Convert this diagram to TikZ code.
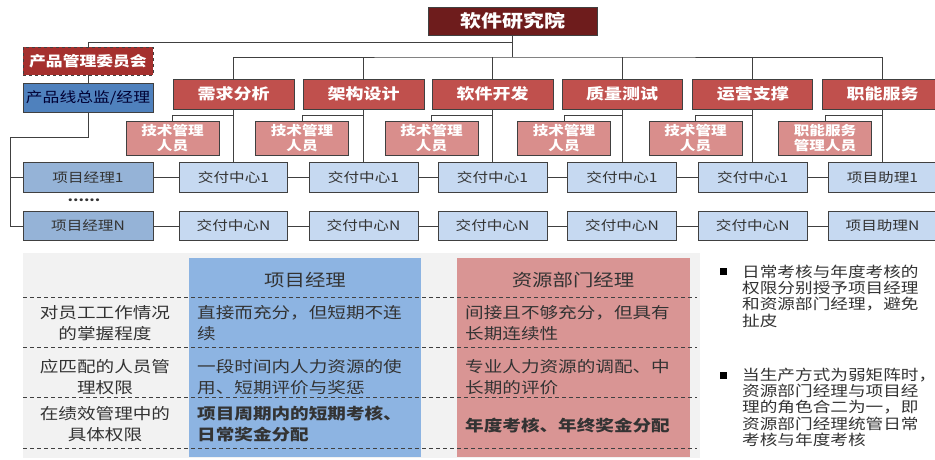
\documentclass[tikz,border=0pt]{standalone}
\usepackage{fontspec}
\setmainfont{Noto Sans CJK SC}[FakeStretch=1.2]
\definecolor{topred}{HTML}{6E1C1C}
\definecolor{deptred}{HTML}{C0504D}
\definecolor{comred}{HTML}{A5302E}
\definecolor{techred}{HTML}{D98E8C}
\definecolor{dirblue}{HTML}{4F81BD}
\definecolor{pmblue}{HTML}{95B3D7}
\definecolor{dcblue}{HTML}{C6D9F1}
\definecolor{colblue}{HTML}{8DB4E2}
\definecolor{colred}{HTML}{D99594}
\definecolor{graybg}{HTML}{F2F2F2}
\definecolor{bordc}{HTML}{404040}
\definecolor{txt}{HTML}{333333}
\begin{document}
\begin{tikzpicture}[x=1pt,y=-1pt,
  box/.style={draw=bordc, line width=0.9pt, inner sep=0pt, outer sep=0pt, align=center},
  topbox/.style={box, fill=topred, text=white, font=\fontsize{17.5}{20}\selectfont\bfseries, minimum width=169pt, minimum height=28pt},
  combox/.style={box, fill=comred, dashed, text=white, font=\fontsize{14}{16}\selectfont\bfseries, minimum width=130pt, minimum height=28pt},
  dirbox/.style={box, fill=dirblue, text={black!80!blue}, font=\fontsize{14}{16}\selectfont, minimum width=130pt, minimum height=29pt},
  deptbox/.style={box, fill=deptred, text=white, font=\fontsize{15}{17}\selectfont\bfseries, minimum width=121pt, minimum height=30pt},
  techbox/.style={box, fill=techred, text=white, font=\fontsize{13}{15}\selectfont\bfseries, minimum width=93pt, minimum height=34pt},
  pmbox/.style={box, fill=pmblue, text=txt, font=\fontsize{13}{15}\selectfont, minimum width=130pt, minimum height=29.5pt},
  dcbox/.style={box, fill=dcblue, text=txt, font=\fontsize{13}{15}\selectfont, minimum width=109pt, minimum height=29.5pt},
  conn/.style={draw=bordc, line width=0.9pt},
  dashline/.style={draw=bordc, line width=0.8pt, dash pattern=on 4pt off 3pt},
  cell/.style={inner sep=0pt, text=txt, font=\fontsize{15.5}{21}\selectfont},
  hdr/.style={inner sep=0pt, text=txt, font=\fontsize{17}{20}\selectfont},
  bul/.style={fill=black, inner sep=0pt, minimum size=7pt},
  note/.style={inner sep=0pt, text=txt, align=left, font=\fontsize{14.7}{16.4}\selectfont}
]
\useasboundingbox (0,0) rectangle (935,459);
\fill[white] (0,0) rectangle (935,459);

% top part
\node[topbox] (top) at (512.5,21) {软件研究院};
\node[combox] (com) at (88,61) {产品管理委员会};
\node[dirbox] (dir) at (88,97.5) {产品线总监/经理};

\node[deptbox] (A) at (233.5,94) {需求分析};
\node[deptbox] (B) at (363.5,94) {架构设计};
\node[deptbox] (C) at (492.5,94) {软件开发};
\node[deptbox, minimum width=120pt] (D) at (622,94) {质量测试};
\node[deptbox, minimum width=120pt] (E) at (752.75,94) {运营支撑};
\node[deptbox] (F) at (882.5,94) {职能服务};

\node[techbox] (t1) at (172.5,138) {技术管理\\人员};
\node[techbox] (t2) at (302,138) {技术管理\\人员};
\node[techbox] (t3) at (431.5,138) {技术管理\\人员};
\node[techbox] (t4) at (564,138) {技术管理\\人员};
\node[techbox] (t5) at (695.5,138) {技术管理\\人员};
\node[techbox] (t6) at (825,138) {职能服务\\管理人员};

\node[pmbox] (P1) at (88,177.5) {项目经理1};
\node[pmbox] (PN) at (88,226) {项目经理N};
\node[dcbox, minimum width=108pt] (a1) at (233.5,177.5) {交付中心1};
\node[dcbox] (b1) at (363.5,177.5) {交付中心1};
\node[dcbox] (c1) at (492.5,177.5) {交付中心1};
\node[dcbox] (d1) at (622,177.5) {交付中心1};
\node[dcbox] (e1) at (752.75,177.5) {交付中心1};
\node[dcbox] (h1) at (882.5,177.5) {项目助理1};
\node[dcbox, minimum width=108pt] (aN) at (233.5,226) {交付中心N};
\node[dcbox] (bN) at (363.5,226) {交付中心N};
\node[dcbox] (cN) at (492.5,226) {交付中心N};
\node[dcbox] (dN) at (622,226) {交付中心N};
\node[dcbox] (eN) at (752.75,226) {交付中心N};
\node[dcbox] (hN) at (882.5,226) {项目助理N};
\node[inner sep=0pt, text=txt, font=\fontsize{13}{13}\selectfont\bfseries] (dots) at (84,200) {......};

% connectors
\coordinate (j1) at (512.5,42);
\coordinate (j2) at (512.5,57);
\draw[conn] (top.south) -- (j2);
\draw[conn] (j1) -| (com.north);
\draw[conn] (com.south) -- (dir.north);
\draw[conn] (A.north) |- (j2) -| (F.north);
\foreach \n in {B,C,D,E} \draw[conn] (\n.north) -- (\n.north |- j2);

\foreach \d/\t/\r in {A/t1/a1,B/t2/b1,C/t3/c1,D/t4/d1,E/t5/e1,F/t6/h1}{
  \draw[conn] (\d.south) -- (\r.north);
  \path (\d.south) ++(0,6) coordinate (\d br);
  \draw[conn] (\d br) -| (\t.north);
}
\draw[conn] (P1) -- (a1) -- (b1) -- (c1) -- (d1) -- (e1) -- (h1);
\draw[conn] (PN) -- (aN) -- (bN) -- (cN) -- (dN) -- (eN) -- (hN);
\coordinate (L1) at (10,137);
\draw[conn] (dir.south) |- (L1) |- (PN.west);
\draw[conn] (L1 |- P1) -- (P1.west);

% table
\fill[graybg] (23,253) rectangle (700,458);
\fill[colblue] (189,258) rectangle (421,457);
\fill[colred] (457,258) rectangle (690,457);
\foreach \y in {297,347,397,448} \draw[dashline] (23,\y) -- (697,\y);

\node[hdr] (h1t) at (305,280) {项目经理};
\node[hdr] (h2t) at (573,280) {资源部门经理};

\node[cell, align=center] (r1) at (105,323.5) {对员工工作情况\\的掌握程度};
\node[cell, align=center] (r2) at (105,377.5) {应匹配的人员管\\理权限};
\node[cell, align=center] (r3) at (105,424) {在绩效管理中的\\具体权限};

\node[cell, align=left, anchor=west] (p1) at (197,323.5) {直接而充分，但短期不连\\续};
\node[cell, align=left, anchor=west] (p2) at (197,377.5) {一段时间内人力资源的使\\用、短期评价与奖惩};
\node[cell, align=left, anchor=west, font=\fontsize{15.5}{21}\selectfont\bfseries] (p3) at (197,424) {项目周期内的短期考核、\\日常奖金分配};

\node[cell, align=left, anchor=west] (s1) at (465,323.5) {间接且不够充分，但具有\\长期连续性};
\node[cell, align=left, anchor=west] (s2) at (465,377.5) {专业人力资源的调配、中\\长期的评价};
\node[cell, align=left, anchor=west, font=\fontsize{15.5}{21}\selectfont\bfseries] (s3) at (465,426) {年度考核、年终奖金分配};

% right notes
\node[bul] (bl1) at (723,271) {};
\node[bul] (bl2) at (723,375) {};
\node[note, anchor=north west] (n1) at (742,264.5) {日常考核与年度考核的\\权限分别授予项目经理\\和资源部门经理，避免\\扯皮};
\node[note, anchor=north west] (n2) at (742,367.5) {当生产方式为弱矩阵时\makebox[0.35em][l]{，}\\资源部门经理与项目经\\理的角色合二为一，即\\资源部门经理统管日常\\考核与年度考核};
\end{tikzpicture}
\end{document}
